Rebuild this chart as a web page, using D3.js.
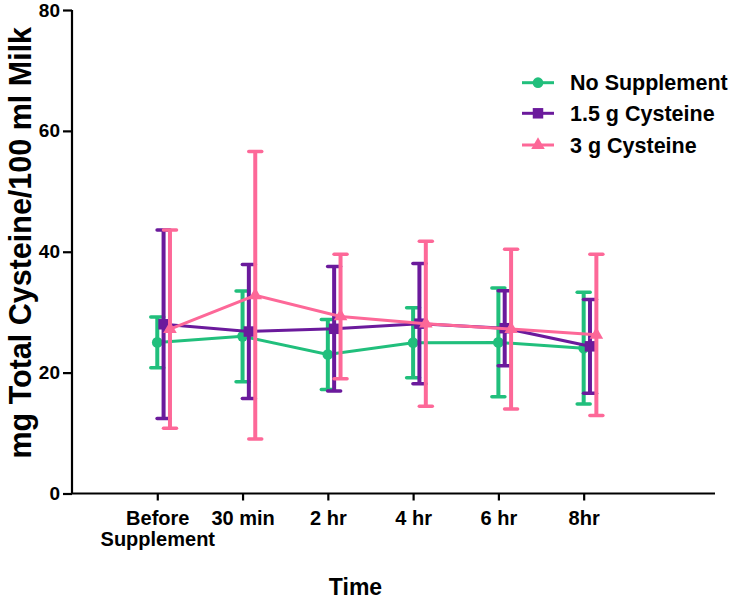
<!DOCTYPE html>
<html>
<head>
<meta charset="utf-8">
<script src="https://cdn.jsdelivr.net/npm/d3@7"></script>
<style>
  html, body { margin: 0; padding: 0; background: #fff; }
  svg { display: block; font-family: Arial, "Liberation Sans", Helvetica, sans-serif; font-weight: bold; }
</style>
</head>
<body>
<svg id="chart" width="734" height="602"></svg>
<script>
// ---- data ----
const categories = [["Before", "Supplement"], ["30 min"], ["2 hr"], ["4 hr"], ["6 hr"], ["8hr"]];
const seriesNames = ["No Supplement", "1.5 g Cysteine", "3 g Cysteine"];
const noSuppMean = [25.0, 26.0, 23.0, 24.95, 25.0, 24.05];
const noSuppSD   = [4.2, 7.5, 5.8, 5.8, 9.0, 9.25];
const cys15Mean  = [28.0, 26.8, 27.25, 28.1, 27.35, 24.35];
const cys15SD    = [15.6, 11.1, 10.3, 9.95, 6.2, 7.75];
const cys3Mean   = [27.2, 32.8, 29.3, 28.1, 27.2, 26.25];
const cys3SD     = [16.4, 23.8, 10.3, 13.65, 13.2, 13.35];
const yTicks = [0, 20, 40, 60, 80];

const colors = ["#21bf7c", "#6b1a9c", "#fd6898"];
const offsets = [0, 6.3, 12.7];
const symbols = [d3.symbolCircle, d3.symbolSquare, d3.symbolTriangle];
const symSizes = [90, 110, 80];

const series = [
  { name: seriesNames[0], mean: noSuppMean, sd: noSuppSD },
  { name: seriesNames[1], mean: cys15Mean, sd: cys15SD },
  { name: seriesNames[2], mean: cys3Mean, sd: cys3SD }
];

const svg = d3.select("#chart");
const x = d3.scaleLinear().domain([0, 7.54]).range([72, 715]);
const y = d3.scaleLinear().domain([0, 80]).range([493.5, 10]);

// axes
const yAxis = svg.append("g").attr("transform", "translate(72,0)")
  .call(d3.axisLeft(y).tickValues(yTicks).tickSize(9).tickPadding(3));
yAxis.select(".domain").attr("stroke-width", 2.2).attr("d", `M0,${y(80)}V${y(0)}`);
yAxis.selectAll(".tick line").attr("stroke-width", 2.2);
yAxis.selectAll(".tick text").attr("font-size", 19).attr("font-weight", "bold")
  .attr("font-family", "Arial, 'Liberation Sans', sans-serif").attr("fill", "#000");

const xAxis = svg.append("g").attr("transform", `translate(0,${y(0)})`)
  .call(d3.axisBottom(x).tickValues([1, 2, 3, 4, 5, 6]).tickSize(7).tickFormat(""));
xAxis.select(".domain").attr("stroke-width", 2.2).attr("d", `M${x(0)},0H${x(7.54)}`);
xAxis.selectAll(".tick line").attr("stroke-width", 2.2);
xAxis.selectAll(".tick").each(function(d, i) {
  const t = d3.select(this).append("text")
    .attr("fill", "#000").attr("font-size", 20).attr("font-weight", "bold")
    .attr("text-anchor", "middle").attr("y", 31);
  categories[i].forEach((line, j) => {
    t.append("tspan").attr("x", 0).attr("dy", j === 0 ? 0 : 21.5).text(line);
  });
});

// series
series.forEach((s, si) => {
  const g = svg.append("g");
  const px = (i) => x(i + 1) + offsets[si];
  // error bars
  s.mean.forEach((m, i) => {
    const lo = m - s.sd[i], hi = m + s.sd[i];
    g.append("line").attr("x1", px(i)).attr("x2", px(i)).attr("y1", y(hi)).attr("y2", y(lo))
      .attr("stroke", colors[si]).attr("stroke-width", 4);
    [hi, lo].forEach(v => {
      g.append("line").attr("x1", px(i) - 6.5).attr("x2", px(i) + 6.5).attr("y1", y(v)).attr("y2", y(v))
        .attr("stroke", colors[si]).attr("stroke-width", 3.5).attr("stroke-linecap", "round");
    });
  });
  // connecting line
  const line = d3.line().x((d, i) => px(i)).y(d => y(d));
  g.append("path").datum(s.mean).attr("d", line).attr("fill", "none")
    .attr("stroke", colors[si]).attr("stroke-width", 3);
  // markers
  s.mean.forEach((m, i) => {
    g.append("path").attr("d", d3.symbol().type(symbols[si]).size(symSizes[si])())
      .attr("transform", `translate(${px(i)},${y(m)})`).attr("fill", colors[si]);
  });
});

// axis titles
svg.append("text").attr("transform", `translate(31,${(y(0) + y(80)) / 2 - 9}) rotate(-90)`)
  .attr("text-anchor", "middle").attr("font-size", 30.5).attr("fill", "#000")
  .text("mg Total Cysteine/100 ml Milk");
svg.append("text").attr("x", 355.5).attr("y", 595).attr("text-anchor", "middle")
  .attr("font-size", 23).attr("fill", "#000").text("Time");

// legend
const legendRows = [82.7, 113.3, 145];
series.forEach((s, si) => {
  const lg = svg.append("g").attr("transform", `translate(0,${legendRows[si]})`);
  lg.append("line").attr("x1", 522).attr("x2", 554).attr("y1", 0).attr("y2", 0)
    .attr("stroke", colors[si]).attr("stroke-width", 3);
  lg.append("path").attr("d", d3.symbol().type(symbols[si]).size(symSizes[si])())
    .attr("transform", "translate(538,0)").attr("fill", colors[si]);
  lg.append("text").attr("x", 570).attr("y", 7.5).attr("font-size", 21.5).attr("fill", "#000").text(s.name);
});
</script>
</body>
</html>
